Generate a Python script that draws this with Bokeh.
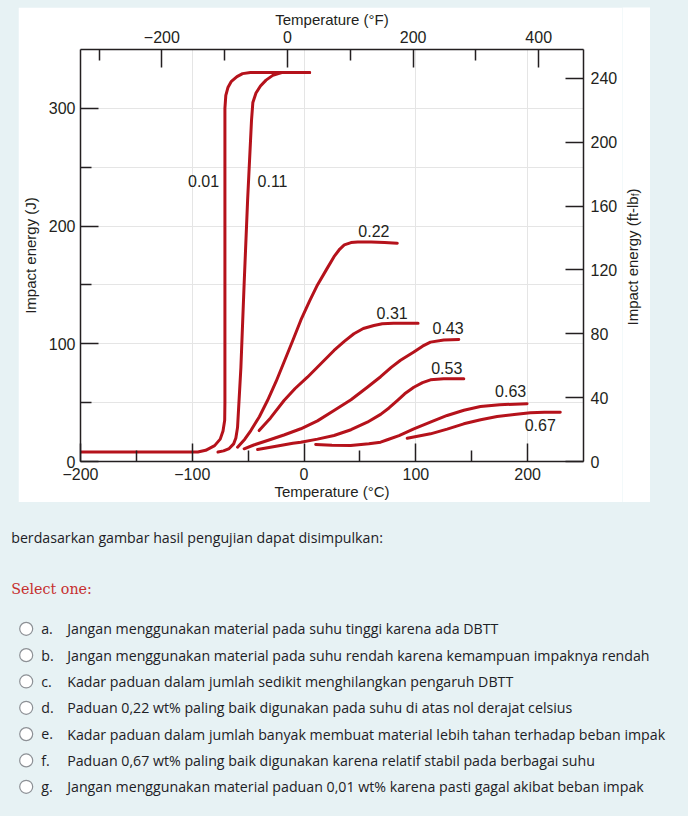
from bokeh.plotting import figure
from bokeh.models import Range1d, LinearAxis, FixedTicker, GlobalInlineStyleSheet
from bokeh.layouts import column, row
from bokeh.core.properties import value
from bokeh.embed import file_html
from bokeh.resources import INLINE
import math

# ---------------- data ----------------
# Temperature (deg C) / Impact energy (J) for each carbon content (wt% C)
t_001 = [-200, -95, -88, -80, -75, -72.5, -71, -70.8, -70.8, -70, -68, -65, -60, -55, -48, 5]
e_001 = [8, 8, 9.5, 13.5, 19, 26, 35, 50, 300, 311, 318, 323, 327, 329.5, 330.5, 330.5]

t_011 = [-77, -72, -67, -63, -61, -59.5, -56.5, -53.6, -50.5, -47, -45.8, -43, -39, -34, -28, -20, 5]
e_011 = [8, 9, 11, 15, 20, 29, 80, 151, 222, 290, 305, 313, 319, 324, 328, 330.5, 330.5]

t_022 = [-59.5, -53, -47.6, -40, -32.7, -25, -17.9, -10, -2.9, 5, 12, 20, 26.8, 32, 36, 42, 48, 60, 72, 83.4]
e_022 = [12.2, 19, 26.3, 38, 51.8, 68, 84.5, 103, 120, 136.5, 150, 163, 174, 180.5, 184, 186, 186.5, 186.5, 186, 185.5]

t_031 = [-40.2, -30, -17.9, -8, 3, 15, 26.8, 36, 44.6, 53, 62.5, 70, 80, 102]
e_031 = [26.3, 37, 51.8, 62, 71.6, 83, 94.3, 102, 108.5, 113, 115.5, 117, 117.5, 117.5]

t_043 = [-53.6, -45, -32.7, -18, -2.9, 12, 26.8, 42, 56.6, 68.5, 78, 86.3, 98.2, 106, 113.1, 125, 138.4]
e_043 = [10.8, 14, 17.8, 22.5, 27.8, 34.5, 43.3, 52.5, 63.1, 72, 80, 86, 93, 98, 101.4, 103.2, 103.7]

t_053 = [-41.6, -25, -10, -2.9, 12, 26.8, 42, 56.6, 68.5, 76, 83.4, 90, 98.2, 106, 113.1, 125, 142.9]
e_053 = [10.2, 13, 15.5, 16.4, 19, 22.1, 27, 33.4, 40, 45.5, 51.8, 57.5, 63.1, 67, 69.4, 70.3, 70.3]

t_063 = [10.4, 25, 41.7, 58, 68.5, 74.5, 85, 98.2, 113, 128, 143, 157.8, 175, 199.5]
e_063 = [14.4, 13.8, 13.6, 15, 16.4, 18.5, 22, 27.8, 33.5, 39.1, 43.5, 46.7, 48.3, 49]

t_067 = [92.3, 113.1, 128, 142.9, 158, 172.7, 188, 202.4, 215, 229.2]
e_067 = [19.8, 23.5, 27.5, 32, 35.5, 38.2, 40, 41.4, 41.8, 41.9]

curve_labels = ["0.01", "0.11", "0.22", "0.31", "0.43", "0.53", "0.63", "0.67"]
label_t = [-89.9, -28.2, 62.5, 78.8, 128.8, 127.7, 184.8, 211.3]
label_e = [238.7, 238.7, 195.6, 126.2, 113.4, 79.4, 59.6, 31.3]

c_ticks = [-200, -100, 0, 100, 200]
c_minor = [-150, -50, 50, 150]
f_ticks = [-200, 0, 200, 400]
f_minor = [-300, -100, 100, 300]
j_ticks = [0, 100, 200, 300]
j_minor = [50, 150, 250]
ftlb_ticks = [0, 40, 80, 120, 160, 200, 240]

right_title_main = "Impact energy (ft-lb"
right_title_sub = "f"
right_title_end = ")"

question = "berdasarkan gambar hasil pengujian dapat disimpulkan:"
select_text = "Select one:"
option_letters = ["a.", "b.", "c.", "d.", "e.", "f.", "g."]
option_texts = [
    "Jangan menggunakan material pada suhu tinggi karena ada DBTT",
    "Jangan menggunakan material pada suhu rendah karena kemampuan impaknya rendah",
    "Kadar paduan dalam jumlah sedikit menghilangkan pengaruh DBTT",
    "Paduan 0,22 wt% paling baik digunakan pada suhu di atas nol derajat celsius",
    "Kadar paduan dalam jumlah banyak membuat material lebih tahan terhadap beban impak",
    "Paduan 0,67 wt% paling baik digunakan karena relatif stabil pada berbagai suhu",
    "Jangan menggunakan material paduan 0,01 wt% karena pasti gagal akibat beban impak",
]

# ---------------- style ----------------
BG = "#e7f2f4"
RED = "#b5121b"
INK = "#231f20"
FONT = "Liberation Sans"
J_PER_FTLB = 1.35582


def no_align(p):
    try:
        p.frame_align = False
    except Exception:
        pass


pA = figure(frame_width=503, frame_height=412,
            x_range=Range1d(-200, 250), y_range=Range1d(0, 350),
            output_backend="svg", toolbar_location=None,
            x_axis_location=None, y_axis_location=None,
            min_border_left=62, min_border_right=39, min_border_top=42, min_border_bottom=41,
            background_fill_color="white", border_fill_color="white",
            outline_line_color=None, margin=(7, 0, 0, 18))
no_align(pA)
pA.extra_x_ranges = {"F": Range1d(-329.6, 471.3)}
pA.extra_y_ranges = {"ftlb": Range1d(0, 350 / J_PER_FTLB)}


def fmt(v):
    return ("\u2212" + str(-v)) if v < 0 else str(v)


def style_axis(ax, major, minor, label=None, s1=5, s2=0):
    ax.ticker = FixedTicker(ticks=major, minor_ticks=minor)
    ax.major_tick_in = 18
    ax.major_tick_out = 0
    ax.minor_tick_in = 11
    ax.minor_tick_out = 0
    ax.axis_line_color = INK
    ax.axis_line_width = 1.5
    ax.major_tick_line_color = INK
    ax.major_tick_line_width = 1.5
    ax.minor_tick_line_color = INK
    ax.minor_tick_line_width = 1.5
    ax.major_label_text_font = FONT
    ax.major_label_text_font_size = "16px"
    ax.major_label_text_color = INK
    ax.major_label_standoff = s1
    ax.major_label_overrides = {v: fmt(v) for v in major}
    if label:
        ax.axis_label = label
        ax.axis_label_text_font = FONT
        ax.axis_label_text_font_size = "15px"
        ax.axis_label_text_font_style = "normal"
        ax.axis_label_text_color = INK
        ax.axis_label_standoff = s2


ax_b = LinearAxis()
style_axis(ax_b, c_ticks, c_minor, "Temperature (\u00b0C)", s1=6, s2=0)
pA.add_layout(ax_b, "below")

ax_t = LinearAxis(x_range_name="F")
style_axis(ax_t, f_ticks, f_minor, "Temperature (\u00b0F)", s1=7, s2=0)
pA.add_layout(ax_t, "above")

ax_l = LinearAxis()
style_axis(ax_l, j_ticks, j_minor, "Impact energy (J)", s1=5, s2=7)
pA.add_layout(ax_l, "left")

ax_r = LinearAxis(y_range_name="ftlb")
style_axis(ax_r, ftlb_ticks, [], None, s1=7)
ax_r.minor_tick_line_color = None
pA.add_layout(ax_r, "right")

curves = [(t_001, e_001), (t_011, e_011), (t_022, e_022), (t_031, e_031),
          (t_043, e_043), (t_053, e_053), (t_063, e_063), (t_067, e_067)]
for t, e in curves:
    pA.line(t, e, line_color=RED, line_width=3, line_cap="round", line_join="round")

pA.text(x=label_t, y=label_e, text=curve_labels, text_align="center", text_baseline="middle",
        text_font=value(FONT), text_font_size="16px", text_color=INK)

# ---------------- right-hand axis title (page pixel coordinates) ----------------
pR = figure(frame_width=28, frame_height=495, x_range=Range1d(622, 650), y_range=Range1d(502, 7),
            output_backend="svg", toolbar_location=None,
            x_axis_location=None, y_axis_location=None, min_border=0,
            min_border_left=0, min_border_right=0, min_border_top=0, min_border_bottom=0,
            background_fill_color="white", border_fill_color="white", outline_line_color=None,
            margin=(7, 0, 0, 0))
no_align(pR)
pR.grid.visible = False
up = math.pi / 2
pR.text(x=[632], y=[325], text=[right_title_main], angle=up, text_align="left",
        text_baseline="alphabetic", text_font=value(FONT), text_font_size="15px", text_color=INK)
pR.text(x=[634.5], y=[195.8], text=[right_title_sub], angle=up, text_align="left",
        text_baseline="alphabetic", text_font=value(FONT), text_font_size="10px", text_color=INK)
pR.text(x=[632], y=[193], text=[right_title_end], angle=up, text_align="left",
        text_baseline="alphabetic", text_font=value(FONT), text_font_size="15px", text_color=INK)

# ---------------- question text (page pixel coordinates) ----------------
pB = figure(frame_width=688, frame_height=314, x_range=Range1d(0, 688), y_range=Range1d(816, 502),
            output_backend="svg", toolbar_location=None,
            x_axis_location=None, y_axis_location=None, min_border=0,
            min_border_left=0, min_border_right=0, min_border_top=0, min_border_bottom=0,
            background_fill_color=BG, border_fill_color=BG, outline_line_color=None)
no_align(pB)
pB.grid.visible = False

TXT = "#1d2125"
TFONT = "Open Sans"
pB.text(x=[10.7], y=[537], text=[question], text_baseline="middle",
        text_font=value(TFONT), text_font_size="14.2px", text_color=TXT)
pB.text(x=[10.7], y=[588], text=[select_text], text_baseline="middle",
        text_font=value("DejaVu Serif"), text_font_size="14.3px", text_color="#c62f2f")

oy = [628.3 + i * 26.33 for i in range(len(option_texts))]
pB.scatter(x=[25.7] * len(oy), y=oy, size=13, marker="circle", fill_color="white",
           line_color="#8d9196", line_width=1.2)
pB.text(x=[40.7] * len(oy), y=oy, text=option_letters, text_baseline="middle",
        text_font=value(TFONT), text_font_size="14.2px", text_color=TXT)
pB.text(x=[66.7] * len(oy), y=oy, text=option_texts, text_baseline="middle",
        text_font=value(TFONT), text_font_size="14.2px", text_color=TXT)

top_row = row(pA, pR, spacing=0)
layout = column(top_row, pB, spacing=0)
layout.stylesheets = [GlobalInlineStyleSheet(css="html, body { background-color: %s; }" % BG)]

open("out.html", "w").write(file_html(layout, INLINE))
